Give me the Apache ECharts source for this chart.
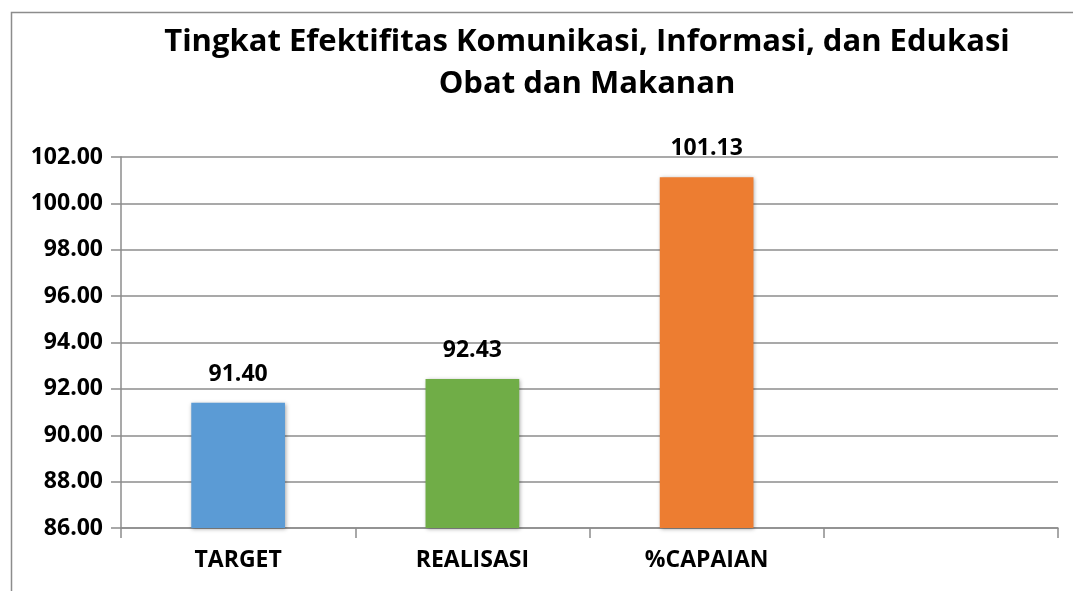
<!DOCTYPE html>
<html><head><meta charset="utf-8">
<script src="https://cdn.jsdelivr.net/npm/echarts@6/dist/echarts.min.js"></script>
<style>html,body{margin:0;padding:0;background:#fff}#c{width:1073px;height:591px}</style>
</head><body><div id="c"></div>
<script>
const titleLines = ['Tingkat Efektifitas Komunikasi, Informasi, dan Edukasi', 'Obat dan Makanan'];
const categories = ['TARGET', 'REALISASI', '%CAPAIAN', ''];
const values = [91.40, 92.43, 101.13, null];
const barColors = ['#5B9BD5', '#70AD47', '#ED7D31', '#A5A5A5'];
const yMin = 86, yMax = 102, yStep = 2;

const FONT = '"Open Sans", sans-serif';
const chart = echarts.init(document.getElementById('c'), null, {renderer: 'canvas'});
chart.setOption({
  animation: false,
  backgroundColor: '#fff',
  title: {
    text: titleLines.join('\n'),
    left: 582, top: 16, textAlign: 'center',
    textStyle: {fontFamily: FONT, fontWeight: 'bold', fontSize: 31, color: '#000', lineHeight: 42}
  },
  graphic: [{
    type: 'rect', left: 9, top: 10, silent: true,
    shape: {width: 1100, height: 620},
    style: {fill: 'none', stroke: '#8c8c8c', lineWidth: 1.5}
  }],
  grid: {left: 121, right: 15, top: 157, bottom: 63, containLabel: false},
  xAxis: {
    type: 'category', data: categories, boundaryGap: true,
    axisLine: {lineStyle: {color: '#8c8c8c', width: 1.5}},
    axisTick: {show: true, alignWithLabel: false, length: 10, lineStyle: {color: '#8c8c8c', width: 1.5}},
    axisLabel: {margin: 21, fontFamily: FONT, fontWeight: 'bold', fontSize: 23, color: '#000'}
  },
  yAxis: {
    type: 'value', min: yMin, max: yMax, interval: yStep,
    axisLine: {show: true, lineStyle: {color: '#8c8c8c', width: 1.5}},
    axisTick: {show: true, length: 10, lineStyle: {color: '#8c8c8c', width: 1.5}},
    splitLine: {lineStyle: {color: '#8c8c8c', width: 1.5}},
    axisLabel: {margin: 18, fontFamily: FONT, fontWeight: 'bold', fontSize: 23, color: '#000',
      formatter: v => v.toFixed(2)}
  },
  series: [{
    type: 'bar', barWidth: '40%',
    data: values.map((v, i) => ({value: v, itemStyle: {color: barColors[i]}})),
    itemStyle: {shadowBlur: 4, shadowColor: 'rgba(0,0,0,0.35)', shadowOffsetX: 1, shadowOffsetY: 1},
    label: {show: true, position: 'top', distance: 17, fontFamily: FONT, fontWeight: 'bold', fontSize: 23, color: '#000',
      formatter: p => p.value == null ? '' : p.value.toFixed(2)}
  }]
});
</script></body></html>
